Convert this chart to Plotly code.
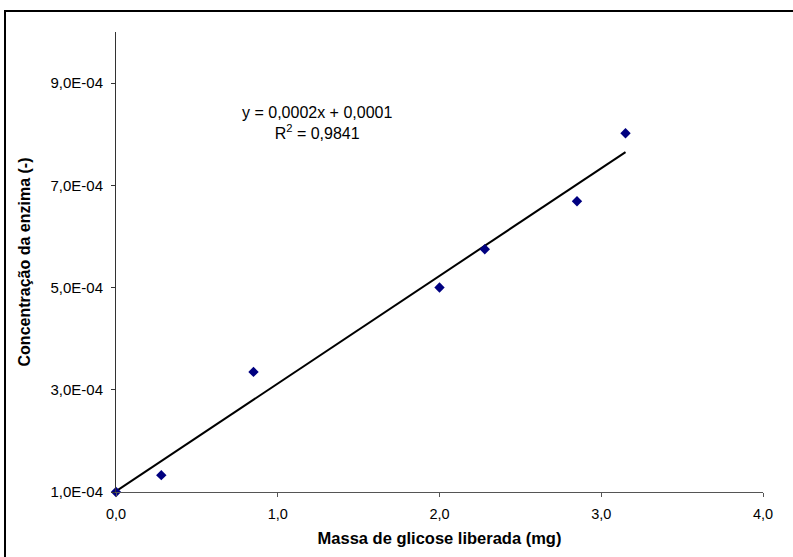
import numpy as np
import plotly.graph_objects as go

# Data
massa_glicose = [0.0, 0.28, 0.85, 2.0, 2.28, 2.85, 3.15]
conc_enzima = [1.0e-4, 1.33e-4, 3.35e-4, 5.0e-4, 5.75e-4, 6.69e-4, 8.02e-4]

x_tickvals = [0, 1, 2, 3, 4]
x_ticktext = ["0,0", "1,0", "2,0", "3,0", "4,0"]
y_tickvals = [1e-4, 3e-4, 5e-4, 7e-4, 9e-4]
y_ticktext = ["1,0E-04", "3,0E-04", "5,0E-04", "7,0E-04", "9,0E-04"]

eq_text = "y = 0,0002x + 0,0001<br>R<sup>2</sup> = 0,9841"

# linear trendline computed from the data
slope, intercept = np.polyfit(massa_glicose, conc_enzima, 1)
tx = [min(massa_glicose), max(massa_glicose)]
ty = [slope * v + intercept for v in tx]

FONT = "Liberation Sans, Arial, sans-serif"

fig = go.Figure()
fig.add_trace(go.Scatter(x=tx, y=ty, mode="lines",
                         line=dict(color="black", width=2),
                         hoverinfo="skip", showlegend=False))
fig.add_trace(go.Scatter(x=massa_glicose, y=conc_enzima, mode="markers",
                         marker=dict(symbol="diamond", size=8, color="#000080"),
                         showlegend=False, cliponaxis=False))

fig.update_layout(
    width=793, height=557,
    margin=dict(l=116, r=30, t=32, b=65),
    paper_bgcolor="white", plot_bgcolor="white",
    font=dict(family=FONT, size=15, color="black"),
    showlegend=False,
    xaxis=dict(
        range=[0, 4], tickvals=x_tickvals, ticktext=x_ticktext,
        showgrid=False, zeroline=False, showline=True, linecolor="#555555",
        linewidth=1, ticks="outside", ticklen=4, tickcolor="#555555",
        tickfont=dict(family=FONT, size=14.5), ticklabelstandoff=5,
        title=dict(text="<b>Massa de glicose liberada (mg)</b>",
                   font=dict(family=FONT, size=16.5), standoff=11),
    ),
    yaxis=dict(
        range=[1e-4, 1e-3], tickvals=y_tickvals, ticktext=y_ticktext,
        showgrid=False, zeroline=False, showline=True, linecolor="#333333",
        linewidth=1, ticks="outside", ticklen=4, tickcolor="#333333",
        tickfont=dict(family=FONT, size=15), ticklabelstandoff=5,
        title=dict(text="<b>Concentração da enzima (-)</b>",
                   font=dict(family=FONT, size=16), standoff=15),
    ),
    annotations=[dict(x=1.243, y=8.21e-4, xref="x", yref="y", text=eq_text,
                      showarrow=False, align="center",
                      font=dict(family=FONT, size=16, color="black"))],
    shapes=[dict(type="rect", xref="paper", yref="paper",
                 x0=(5 - 116) / 647, x1=1.2, y0=-0.3, y1=(492 - 11) / 460,
                 line=dict(color="black", width=2), layer="below")],
)

fig.write_html("out.html")
